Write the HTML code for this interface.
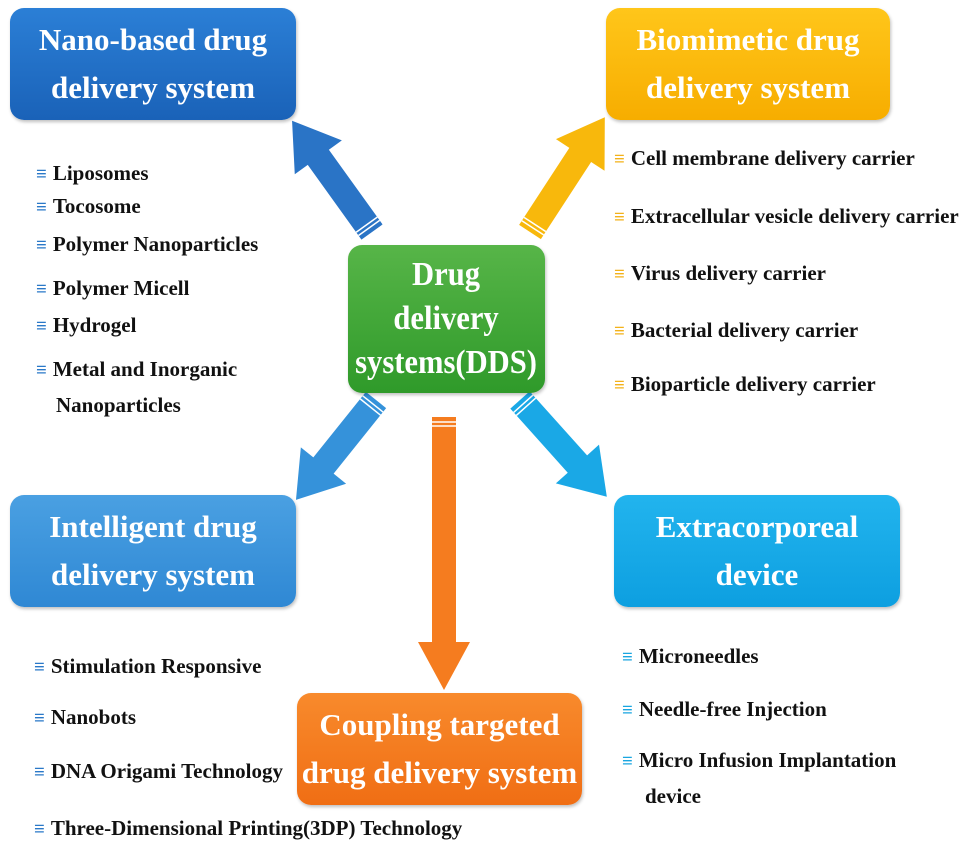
<!DOCTYPE html>
<html><head><meta charset="utf-8"><style>
body{margin:0;width:976px;height:851px;background:#fff;position:relative;overflow:hidden;font-family:"Liberation Serif",serif;}
.box{position:absolute;border-radius:14px;color:#fff;font-weight:bold;font-size:31px;line-height:48px;text-align:center;display:flex;align-items:center;justify-content:center;box-shadow:1px 2px 3px rgba(0,0,0,.25)}
.li{position:absolute;font-weight:bold;font-size:21px;color:#111;white-space:nowrap;line-height:26px}
.li b{font-size:19px;margin-right:6px}
.bl b{color:#2a78c8}.yl b{color:#f3b21a}.cl b{color:#1aa6e0}
svg{position:absolute;left:0;top:0}
</style></head><body>
<svg width="976" height="851">
<g transform="translate(372,232) rotate(-125.7)" fill="#2a74c6"><polygon points="0,-13 92,-13 92,-29 137,0 92,29 92,13 0,13"/><line x1="5" y1="-13" x2="5" y2="13" stroke="#fff" stroke-width="1.5"/><line x1="9" y1="-13" x2="9" y2="13" stroke="#fff" stroke-width="1.5"/></g>
<g transform="translate(530,232) rotate(-56.9)" fill="#f8b80c"><polygon points="0,-13 92,-13 92,-29 137,0 92,29 92,13 0,13"/><line x1="5" y1="-13" x2="5" y2="13" stroke="#fff" stroke-width="1.5"/><line x1="9" y1="-13" x2="9" y2="13" stroke="#fff" stroke-width="1.5"/></g>
<g transform="translate(376,400) rotate(128.7)" fill="#3592da"><polygon points="0,-13 84,-13 84,-29 128,0 84,29 84,13 0,13"/><line x1="5" y1="-13" x2="5" y2="13" stroke="#fff" stroke-width="1.5"/><line x1="9" y1="-13" x2="9" y2="13" stroke="#fff" stroke-width="1.5"/></g>
<g transform="translate(520,400) rotate(48.1)" fill="#1aa8e6"><polygon points="0,-13 86,-13 86,-29 130,0 86,29 86,13 0,13"/><line x1="5" y1="-13" x2="5" y2="13" stroke="#fff" stroke-width="1.5"/><line x1="9" y1="-13" x2="9" y2="13" stroke="#fff" stroke-width="1.5"/></g>
<g transform="translate(444,417) rotate(90)" fill="#f57c1f"><polygon points="0,-12 225,-12 225,-26 273,0 225,26 225,12 0,12"/><line x1="5" y1="-12" x2="5" y2="12" stroke="#fff" stroke-width="1.5"/><line x1="9" y1="-12" x2="9" y2="12" stroke="#fff" stroke-width="1.5"/></g>
</svg>
<div class="box" style="left:10px;top:8px;width:286px;height:112px;background:linear-gradient(#2b7fd6,#1a62b8)">Nano-based drug<br>delivery system</div>
<div class="box" style="left:606px;top:8px;width:284px;height:112px;background:linear-gradient(#ffc61a,#f7ad00)">Biomimetic drug<br>delivery system</div>
<div class="box" style="left:348px;top:245px;width:197px;height:148px;background:linear-gradient(#57b548,#2f9a2a)"><span style="display:inline-block;font-size:34px;line-height:44px;transform:scaleX(0.9);white-space:nowrap">Drug<br>delivery<br>systems(DDS)</span></div>
<div class="box" style="left:10px;top:495px;width:286px;height:112px;background:linear-gradient(#4aa0e2,#2f88d4)">Intelligent drug<br>delivery system</div>
<div class="box" style="left:614px;top:495px;width:286px;height:112px;background:linear-gradient(#22b4ee,#0d9fe0)">Extracorporeal<br>device</div>
<div class="box" style="left:297px;top:693px;width:285px;height:112px;background:linear-gradient(#f88a2c,#f06e14)">Coupling targeted<br>drug delivery system</div>

<div class="li bl" style="left:36px;top:160px"><b>≡</b>Liposomes</div>
<div class="li bl" style="left:36px;top:193px"><b>≡</b>Tocosome</div>
<div class="li bl" style="left:36px;top:231px"><b>≡</b>Polymer Nanoparticles</div>
<div class="li bl" style="left:36px;top:275px"><b>≡</b>Polymer Micell</div>
<div class="li bl" style="left:36px;top:312px"><b>≡</b>Hydrogel</div>
<div class="li bl" style="left:36px;top:356px"><b>≡</b>Metal and Inorganic</div>
<div class="li" style="left:56px;top:392px">Nanoparticles</div>

<div class="li yl" style="left:614px;top:145px"><b>≡</b>Cell membrane delivery carrier</div>
<div class="li yl" style="left:614px;top:203px"><b>≡</b>Extracellular vesicle delivery carrier</div>
<div class="li yl" style="left:614px;top:260px"><b>≡</b>Virus delivery carrier</div>
<div class="li yl" style="left:614px;top:317px"><b>≡</b>Bacterial delivery carrier</div>
<div class="li yl" style="left:614px;top:371px"><b>≡</b>Bioparticle delivery carrier</div>

<div class="li bl" style="left:34px;top:653px"><b>≡</b>Stimulation Responsive</div>
<div class="li bl" style="left:34px;top:704px"><b>≡</b>Nanobots</div>
<div class="li bl" style="left:34px;top:758px"><b>≡</b>DNA Origami Technology</div>
<div class="li bl" style="left:34px;top:815px"><b>≡</b>Three-Dimensional Printing(3DP) Technology</div>

<div class="li cl" style="left:622px;top:643px"><b>≡</b>Microneedles</div>
<div class="li cl" style="left:622px;top:696px"><b>≡</b>Needle-free Injection</div>
<div class="li cl" style="left:622px;top:747px"><b>≡</b>Micro Infusion Implantation</div>
<div class="li" style="left:645px;top:783px">device</div>
</body></html>
